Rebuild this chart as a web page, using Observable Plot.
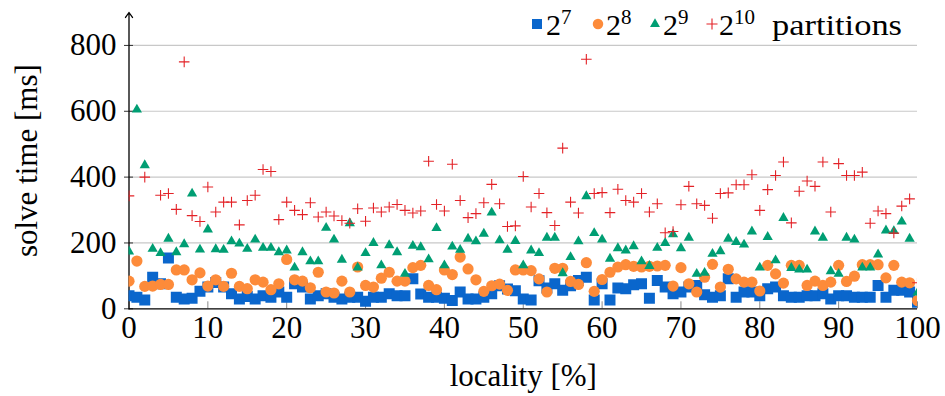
<!DOCTYPE html>
<html>
<head>
<meta charset="utf-8">
<script src="https://cdn.jsdelivr.net/npm/d3@7"></script>
<script src="https://cdn.jsdelivr.net/npm/@observablehq/plot@0.6"></script>
<style>
  html, body { margin: 0; padding: 0; background: #fff; }
  #chart svg { display: block; }
  #chart svg text, #chart svg tspan { font-family: "Liberation Serif", serif !important; }
</style>
</head>
<body>
<div id="chart"></div>
<script>
// locality in percent, one run per step
const locality = [0,1,2,3,4,5,6,7,8,9,10,11,12,13,14,15,16,17,18,19,20,21,22,23,24,25,26,27,28,29,30,31,32,33,34,35,36,37,38,39,40,41,42,43,44,45,46,47,48,49,50,51,52,53,54,55,56,57,58,59,60,61,62,63,64,65,66,67,68,69,70,71,72,73,74,75,76,77,78,79,80,81,82,83,84,85,86,87,88,89,90,91,92,93,94,95,96,97,98,99,100];

// solve time [ms] for 2^7 partitions
const solve7 = [40,35,27,96,76,154,35,30,32,53,66,80,66,46,30,37,30,40,35,51,35,76,66,30,40,46,35,30,35,35,23,35,35,46,40,40,91,45,35,35,32,25,51,30,30,35,46,70,60,55,30,27,85,63,76,56,70,86,96,27,76,27,63,61,73,76,32,86,66,46,51,66,71,43,35,40,91,35,51,51,40,61,66,40,35,35,40,40,46,30,40,40,35,35,35,71,35,56,56,51,20];

// solve time [ms] for 2^8 partitions
const solve8 = [84,145,68,69,74,74,118,118,88,109,69,88,68,108,68,61,88,81,58,76,150,88,84,64,111,51,48,84,51,127,71,66,93,111,84,84,125,132,71,58,118,104,157,121,88,53,70,75,56,118,118,116,91,51,123,123,83,74,140,53,89,111,127,134,129,127,129,130,132,69,125,76,51,96,135,66,120,91,81,81,54,132,106,78,132,132,71,84,71,81,132,83,99,134,134,134,94,132,81,79,25];

// solve time [ms] for 2^9 partitions
const solve9 = [174,605,436,182,169,213,172,196,350,180,241,181,179,205,198,182,210,185,185,172,177,125,172,144,144,246,210,149,260,125,169,200,132,193,172,106,191,187,150,245,132,189,179,213,205,228,292,208,179,206,132,177,169,216,216,108,157,205,342,230,210,152,184,177,190,144,130,185,200,226,184,216,106,109,167,175,213,203,195,235,125,218,147,276,124,119,119,235,216,114,106,216,210,125,125,165,238,236,265,213,49];

// solve time [ms] for 2^10 partitions (runs 1 and 3 lie above the axis range)
const solve10 = [343,null,400,null,345,350,302,750,283,265,370,294,324,324,255,329,345,423,417,271,324,299,286,322,279,294,282,268,260,304,266,306,294,309,317,299,291,297,448,317,297,439,329,277,289,322,378,319,250,252,402,309,350,292,253,488,324,291,758,350,353,292,363,329,324,350,294,319,231,235,316,372,319,314,275,350,352,377,377,407,299,362,405,446,261,357,388,372,446,294,441,405,405,415,260,297,289,230,312,334,79];

const xTicks = [0,10,20,30,40,50,60,70,80,90,100];
const yTicks = [0,200,400,600,800];
const yTop = 900;

const exponents = ["7", "8", "9", "10"];
const colors = ["#0a66cc", "#fd8b3a", "#009e73", "#e32227"];
const symbols = ["square", "circle", "triangle", "plus"];
const radii = [6.2, 5.6, 3.8, 3.5];

const rows = (vals) => locality.map((x, i) => ({x, y: vals[i]})).filter(d => d.y != null);
const series = [solve7, solve8, solve9, solve10].map(rows);

const font = "Liberation Serif, serif";

const plot = Plot.plot({
  width: 945,
  height: 396,
  marginLeft: 128.5,
  marginRight: 28,
  marginTop: 12,
  marginBottom: 87.7,
  style: {fontFamily: font, fontSize: "31px", background: "#fff", color: "#000", overflow: "visible"},
  x: {domain: [0, 100]},
  y: {domain: [0, yTop]},
  marks: [
    Plot.gridY(yTicks.filter(d => d > 0), {stroke: "#c8c8c8", strokeOpacity: 1, strokeWidth: 1.2}),
    // x axis: labels below, short ticks pointing into the plot
    Plot.axisX(xTicks, {tickSize: 0, tickPadding: 7, label: "locality [%]", labelAnchor: "center", labelArrow: "none", labelOffset: 77, fontSize: 31}),
    Plot.axisX(xTicks, {tickSize: -7, text: null, label: null, stroke: "#8a8a8a"}),
    // y axis: ticks crossing the axis line
    Plot.axisY(yTicks, {tickSize: 4.5, tickPadding: 8, label: "solve time [ms]", labelAnchor: "center", labelArrow: "none", labelOffset: 114, fontSize: 31, stroke: "#333"}),
    Plot.axisY(yTicks, {tickSize: -4.5, text: null, label: null, stroke: "#333"}),
    Plot.ruleY([0], {stroke: "#000", strokeWidth: 1.3}),
    Plot.arrow([yTop], {x1: () => 0, x2: () => 0, y1: () => 0, y2: d => d, stroke: "#000", strokeWidth: 1.3, headLength: 7, headAngle: 70}),
    ...series.map((data, k) => Plot.dot(data, {
      x: "x", y: "y",
      symbol: () => symbols[k],
      r: radii[k],
      fill: k === 3 ? "none" : colors[k],
      stroke: k === 3 ? colors[k] : "none",
      strokeWidth: 1.1,
      clip: true
    }))
  ]
});

document.getElementById("chart").append(plot);

// legend along the top edge of the plot
const svg = d3.select(plot);
const legend = svg.append("g")
  .attr("text-anchor", "start")
  .attr("fill", "#000");
const items = [
  {sx: 537, tx: 546},
  {sx: 598, tx: 606},
  {sx: 655, tx: 663},
  {sx: 712, tx: 719}
];
const symbolTypes = [d3.symbolSquare, d3.symbolCircle, d3.symbolTriangle, d3.symbolPlus];
const legendSizes = [100, 86, 43, 42];
const baseline = 35;
items.forEach((it, k) => {
  legend.append("path")
    .attr("transform", `translate(${it.sx},${baseline - 11})`)
    .attr("d", d3.symbol(symbolTypes[k], legendSizes[k])())
    .attr("fill", k === 3 ? "none" : colors[k])
    .attr("stroke", k === 3 ? colors[k] : "none")
    .attr("stroke-width", 1.1);
  const t = legend.append("text")
    .attr("x", it.tx).attr("y", baseline)
    .attr("font-size", 30);
  t.append("tspan").text("2");
  t.append("tspan").attr("font-size", 21).attr("dy", -11).text(exponents[k]);
});
legend.append("text")
  .attr("x", 772).attr("y", baseline)
  .attr("font-size", 30)
  .attr("textLength", 130)
  .attr("lengthAdjust", "spacingAndGlyphs")
  .text("partitions");
</script>
</body>
</html>
